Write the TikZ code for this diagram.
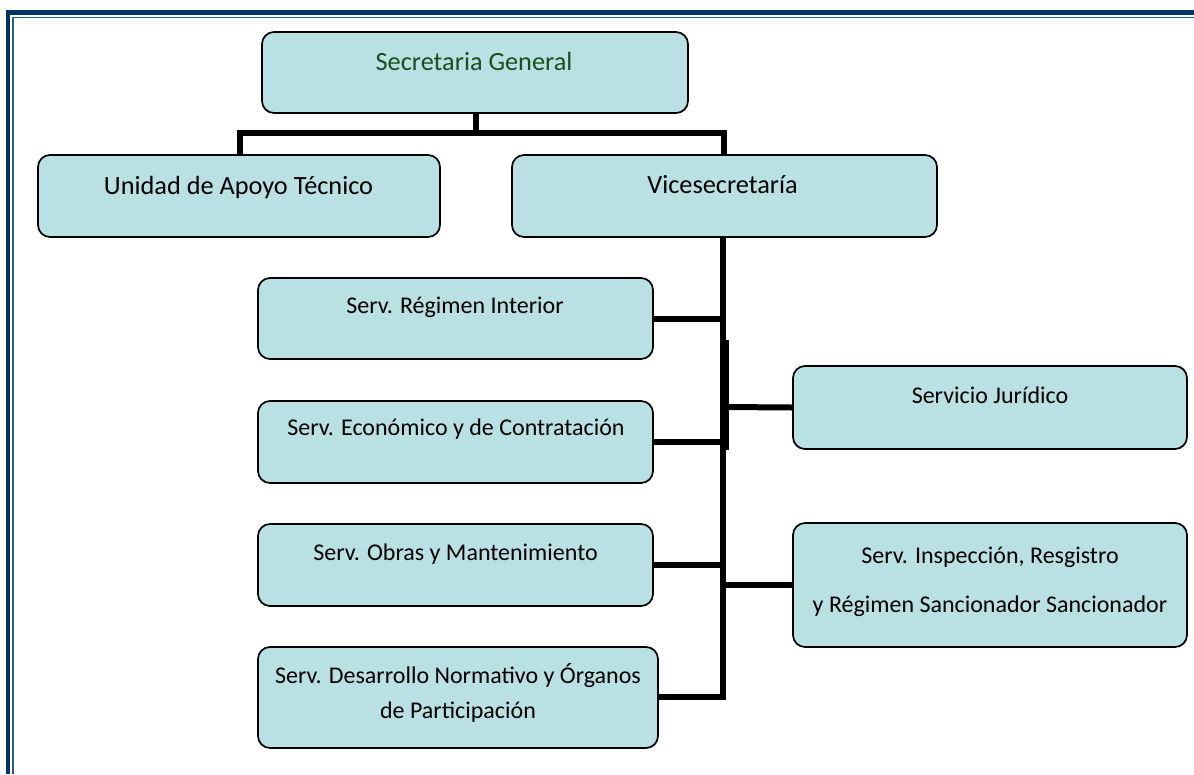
\documentclass[tikz,border=0pt]{standalone}
\usepackage{fontspec}
\setmainfont{Carlito}
\definecolor{boxfill}{RGB}{185,224,227}
\definecolor{frameblue}{RGB}{0,51,102}
\definecolor{framethin}{RGB}{45,90,150}
\definecolor{sggreen}{RGB}{25,80,30}
\tikzset{
  orgbox/.style={draw=black, line width=1.7pt, fill=boxfill, rounded corners=12pt, inner sep=0pt},
  bigtxt/.style={anchor=base, inner sep=0pt, font=\fontsize{26.3}{30}\selectfont},
  smalltxt/.style={anchor=base, inner sep=0pt, font=\fontsize{24}{28}\selectfont},
  link/.style={draw=black, line width=6pt}
}
\begin{document}
\begin{tikzpicture}[x=1pt,y=-1pt]
\useasboundingbox (0,0) rectangle (1194,774);
\fill[white] (0,0) rectangle (1194,774);
% page frame
\draw[frameblue, line width=4.5pt] (8.2,774) -- (8.2,12.5) -- (1194,12.5);
\draw[framethin, line width=1.5pt] (12.8,774) -- (12.8,17.4) -- (1194,17.4);
% boxes
\node[orgbox, minimum width=426pt, minimum height=81pt] (sg) at (475,72.5) {};
\node[orgbox, minimum width=402pt, minimum height=82pt] (ua) at (239,196) {};
\node[orgbox, minimum width=425pt, minimum height=82pt] (vs) at (724.5,196) {};
\node[orgbox, minimum width=395pt, minimum height=81pt] (ri) at (455.5,318.5) {};
\node[orgbox, minimum width=395pt, minimum height=82pt] (ec) at (455.5,442) {};
\node[orgbox, minimum width=395pt, minimum height=82pt] (ob) at (455.5,565) {};
\node[orgbox, minimum width=400pt, minimum height=101pt] (dn) at (458,697.5) {};
\node[orgbox, minimum width=394pt, minimum height=83pt] (ju) at (990,407.5) {};
\node[orgbox, minimum width=394pt, minimum height=124pt] (in) at (990,585) {};
% texts
\node[bigtxt, text=sggreen] (sgt) at (474,70) {Secretaria General};
\node[bigtxt] (uat) at (238.5,194) {Unidad de Apoyo Técnico};
\node[bigtxt] (vst) at (722.5,193) {Vicesecretaría};
\node[smalltxt] (rit) at (455,313) {Serv. Régimen Interior};
\node[smalltxt] (ect) at (456,435) {Serv. Económico y de Contratación};
\node[smalltxt] (obt) at (455.5,560) {Serv. Obras y Mantenimiento};
\node[smalltxt] (dnt1) at (458,683) {Serv. Desarrollo Normativo y Órganos};
\node[smalltxt] (dnt2) at (458,718) {de Participación};
\node[smalltxt] (jut) at (990,403) {Servicio Jurídico};
\node[smalltxt] (int1) at (990,563) {Serv. Inspección, Resgistro};
\node[smalltxt] (int2) at (990,612) {y Régimen Sancionador Sancionador};
% connectors
\coordinate (bar) at (476,133);
\draw[link] (sg.south -| bar) -- (bar);
\draw[link] (ua.north -| 240,0) -- (240,133) -- (724,133) -- (vs.north -| 724,0);
\coordinate (spinebot) at (723.4,697);
\draw[link] (vs.south -| spinebot) -- (spinebot) -- (dn.east |- spinebot);
\draw[link] (ri.east) -- (ri.east -| spinebot);
\draw[link] (ec.east) -- (ec.east -| spinebot);
\draw[link] (ob.east) -- (ob.east -| spinebot);
\coordinate (jspine) at (725.5,407);
\draw[link] (725.5,340) -- (725.5,450);
\draw[link] (ju.west) -- (jspine);
\draw[link] (in.west) -- (in.west -| spinebot);
\end{tikzpicture}
\end{document}
